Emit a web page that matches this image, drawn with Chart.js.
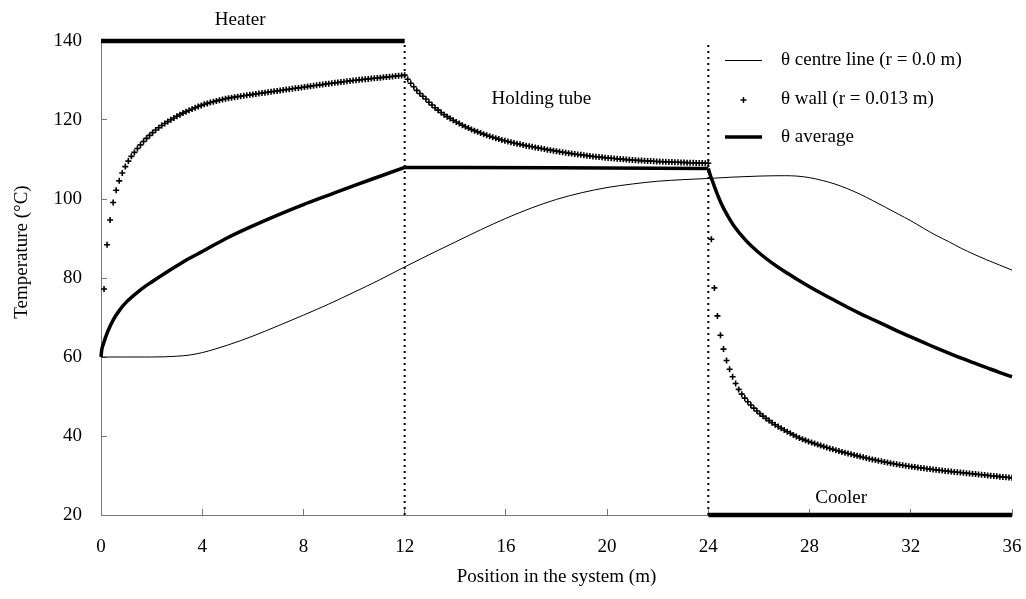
<!DOCTYPE html>
<html><head><meta charset="utf-8">
<script src="https://cdn.jsdelivr.net/npm/chart.js@4.4.0/dist/chart.umd.min.js"></script>
<style>html,body{margin:0;padding:0;background:#fff}#wrap{width:1026px;height:599px;position:relative}</style>
</head><body><div id="wrap"><canvas id="c"></canvas></div>
<script>
// ---- tick values ----
const xTickValues = [0, 4, 8, 12, 16, 20, 24, 28, 32, 36];
const yTickValues = [20, 40, 60, 80, 100, 120, 140];

// ---- section names ----
const sectionNames = ['Heater', 'Holding tube', 'Cooler'];
const sectionStart = [0, 12, 24];
const sectionEnd = [12, 24, 36];
const heaterTemp = 140;
const coolerTemp = 20;

// ---- legend labels ----
const seriesLabels = ['\u03B8 centre line (r = 0.0 m)', '\u03B8 wall (r = 0.013 m)', '\u03B8 average'];

// ---- centre line ----
const centreX = [0,1,2,2.5,3,3.5,4,4.5,5,5.5,6,7,8,9,10,11,12,13,14,15,16,17,18,19,20,21,22,23,24,25,26,27,27.5,28,28.5,29,29.5,30,30.5,31,31.5,32,32.5,33,33.5,34,34.5,35,35.5,36];
const centreY = [60,60,60,60.05,60.2,60.5,61.1,62.0,63.0,64.1,65.3,67.9,70.6,73.4,76.4,79.5,82.8,86.0,89.1,92.2,95.1,97.7,99.9,101.6,102.9,103.8,104.5,104.9,105.2,105.55,105.8,105.9,105.8,105.4,104.7,103.8,102.6,101.2,99.6,97.9,96.2,94.5,92.6,90.8,89.2,87.5,86.0,84.6,83.3,82.0];

// ---- average ----
const avgX = [0,0.03,0.1,0.25,0.5,0.75,1,1.5,2,2.5,3,3.5,4,5,6,7,8,9,10,11,12,18,24,24.05,24.1,24.2,24.35,24.5,24.75,25,25.5,26,26.5,27,27.5,28,28.5,29,29.5,30,30.5,31,31.5,32,32.5,33,33.5,34,34.5,35,35.5,36];
const avgY = [60,61.8,63.4,66.2,69.6,72.0,73.9,76.7,79.0,81.1,83.1,85.0,86.7,90.2,93.2,96.0,98.6,101.0,103.4,105.7,108.0,107.9,107.7,106.6,105.6,103.9,101.3,99.0,95.9,93.3,89.4,86.4,83.9,81.7,79.7,77.8,76.0,74.3,72.6,71.0,69.5,68.0,66.5,65.1,63.7,62.3,61.0,59.7,58.5,57.3,56.1,55.0];

// ---- wall (sampled every 0.12 m in each section) ----
const wallStep = 0.12;
const wallHeater = [
77.2,88.4,94.7,99.1,102.2,104.6,106.6,108.2,109.6,110.8,
111.8,112.8,113.7,114.55,115.35,116.1,116.8,117.45,118.05,118.6,
119.1,119.6,120.07,120.52,120.95,121.36,121.75,122.12,122.47,122.8,
123.12,123.42,123.7,123.96,124.2,124.42,124.63,124.83,125.02,125.2,
125.37,125.53,125.66,125.79,125.91,126.03,126.15,126.26,126.37,126.48,
126.59,126.7,126.81,126.92,127.03,127.14,127.25,127.36,127.47,127.58,
127.69,127.8,127.91,128.02,128.13,128.24,128.35,128.46,128.57,128.68,
128.79,128.9,129.0,129.1,129.2,129.3,129.4,129.5,129.6,129.7,
129.8,129.9,130.0,130.08,130.16,130.24,130.32,130.4,130.48,130.56,
130.64,130.72,130.8,130.88,130.96,131.04,131.12,131.2,131.28,131.36];
const wallHolding = [
130.3,129.3,128.4,127.5,126.7,126.0,125.3,124.5,123.8,123.1,
122.5,121.9,121.35,120.85,120.4,119.95,119.5,119.1,118.7,118.3,
117.95,117.6,117.3,117.0,116.7,116.42,116.15,115.9,115.65,115.4,
115.17,114.95,114.75,114.55,114.36,114.18,114.0,113.83,113.67,113.51,
113.36,113.21,113.06,112.92,112.78,112.64,112.5,112.37,112.24,112.11,
111.98,111.85,111.73,111.61,111.5,111.39,111.28,111.18,111.08,110.98,
110.88,110.79,110.7,110.62,110.54,110.46,110.38,110.31,110.24,110.17,
110.1,110.04,109.98,109.92,109.87,109.82,109.77,109.72,109.67,109.63,
109.59,109.55,109.51,109.47,109.44,109.41,109.38,109.35,109.32,109.29,
109.26,109.23,109.2,109.18,109.16,109.14,109.12,109.1,109.08,109.06];
const wallCooler = [
89.8,77.5,70.4,65.5,62.0,59.1,56.9,55.0,53.3,51.8,
50.6,49.6,48.68,47.83,47.05,46.33,45.66,45.04,44.46,43.9,
43.36,42.86,42.39,41.94,41.51,41.09,40.68,40.28,39.89,39.5,
39.2,38.9,38.62,38.35,38.08,37.82,37.57,37.32,37.08,36.85,
36.62,36.4,36.19,35.98,35.78,35.58,35.38,35.18,34.98,34.79,
34.6,34.42,34.25,34.08,33.91,33.75,33.59,33.43,33.28,33.13,
32.98,32.84,32.7,32.58,32.46,32.35,32.24,32.13,32.02,31.92,
31.82,31.72,31.62,31.52,31.43,31.34,31.25,31.16,31.07,30.99,
30.91,30.83,30.75,30.67,30.59,30.51,30.43,30.35,30.27,30.19,
30.11,30.03,29.95,29.87,29.79,29.71,29.63,29.55,29.48,29.41];

// ---- build datasets ----
const pairs = (xs, ys) => xs.map((x, i) => ({x, y: ys[i]}));
const wallPoints = [];
[wallHeater, wallHolding, wallCooler].forEach((arr, s) => {
  arr.forEach((v, i) => wallPoints.push({x: +(sectionStart[s] + wallStep * (i + 1)).toFixed(3), y: v}));
});
const avgPts = pairs(avgX, avgY);
const avgSection = s => avgPts.filter(p => p.x >= sectionStart[s] && p.x <= sectionEnd[s]);

const FONT = '"Liberation Serif", "Times New Roman", serif';
Chart.defaults.font.family = FONT;
Chart.defaults.font.size = 19;
Chart.defaults.color = '#000';

const avgStyle = {borderColor: '#000', borderWidth: 3.5, pointRadius: 0, cubicInterpolationMode: 'monotone', clip: false};
const datasets = [
  {label: seriesLabels[1], data: wallPoints, showLine: false, pointStyle: 'cross', pointRadius: 3, borderWidth: 1.6, borderColor: '#000', backgroundColor: '#000'},
  Object.assign({label: seriesLabels[2], data: avgSection(0)}, avgStyle),
  Object.assign({label: seriesLabels[2] + ' ', data: avgSection(1)}, avgStyle),
  Object.assign({label: seriesLabels[2] + '  ', data: avgSection(2)}, avgStyle),
  {label: seriesLabels[0], data: pairs(centreX, centreY), borderColor: '#000', borderWidth: 1, pointRadius: 0, cubicInterpolationMode: 'monotone'},
  {label: sectionNames[0], data: [{x: sectionStart[0], y: heaterTemp}, {x: sectionEnd[0], y: heaterTemp}], borderColor: '#000', borderWidth: 4.5, pointRadius: 0, clip: false},
  {label: sectionNames[2], data: [{x: sectionStart[2], y: coolerTemp}, {x: sectionEnd[2], y: coolerTemp}], borderColor: '#000', borderWidth: 4.5, pointRadius: 0, clip: false},
  {label: 'b1', data: [{x: sectionEnd[0], y: coolerTemp}, {x: sectionEnd[0], y: heaterTemp}], borderColor: '#000', borderWidth: 2, borderDash: [2, 4], pointRadius: 0, clip: false},
  {label: 'b2', data: [{x: sectionEnd[1], y: coolerTemp}, {x: sectionEnd[1], y: heaterTemp}], borderColor: '#000', borderWidth: 2, borderDash: [2, 4], pointRadius: 0, clip: false}
];

const overlay = {
  id: 'overlay',
  afterDraw(chart) {
    const {ctx, scales: {x, y}} = chart;
    ctx.save();
    ctx.fillStyle = '#000';
    ctx.strokeStyle = '#000';
    ctx.font = '19px ' + FONT;
    ctx.textBaseline = 'middle';
    // section labels
    ctx.textAlign = 'center';
    ctx.fillText(sectionNames[0], x.getPixelForValue(5.5), y.getPixelForValue(145.3));
    ctx.fillText(sectionNames[1], x.getPixelForValue(17.4), y.getPixelForValue(125.3));
    ctx.fillText(sectionNames[2], x.getPixelForValue(29.25), y.getPixelForValue(24.4));
    // legend
    ctx.textAlign = 'left';
    const rows = [60, 99, 137];
    const lx0 = 725, lx1 = 762, tx = 781;
    ctx.lineWidth = 1;
    ctx.beginPath(); ctx.moveTo(lx0, rows[0] + 0.5); ctx.lineTo(lx1, rows[0] + 0.5); ctx.stroke();
    ctx.lineWidth = 1.4;
    const cx = 743.5, cy = rows[1] + 1, r = 3;
    ctx.beginPath(); ctx.moveTo(cx - r, cy); ctx.lineTo(cx + r, cy); ctx.moveTo(cx, cy - r); ctx.lineTo(cx, cy + r); ctx.stroke();
    ctx.lineWidth = 3.5;
    ctx.beginPath(); ctx.moveTo(lx0, rows[2]); ctx.lineTo(lx1, rows[2]); ctx.stroke();
    ctx.fillText(seriesLabels[0], tx, rows[0]);
    ctx.fillText(seriesLabels[1], tx, rows[1]);
    ctx.fillText(seriesLabels[2], tx, rows[2]);
    // y title
    ctx.translate(22, 252);
    ctx.rotate(-Math.PI / 2);
    ctx.textAlign = 'center';
    ctx.fillText('Temperature (\u00B0C)', 0, 0);
    ctx.restore();
  }
};

new Chart(document.getElementById('c'), {
  type: 'line',
  data: {datasets},
  options: {
    responsive: true,
    maintainAspectRatio: false,
    animation: false,
    layout: {padding: {top: 41, right: 14, left: 0, bottom: 0}},
    plugins: {legend: {display: false}, tooltip: {enabled: false}},
    scales: {
      x: {
        type: 'linear', min: 0, max: 36,
        afterBuildTicks: s => { s.ticks = xTickValues.map(v => ({value: v})); },
        afterFit: s => { s.height = 84; s.paddingLeft = 0; s.paddingRight = 0; },
        grid: {drawOnChartArea: false, drawTicks: true, tickLength: -6, color: '#777', lineWidth: 1},
        border: {display: true, color: '#777', width: 1},
        ticks: {padding: 27, color: '#000', font: {size: 19}, maxRotation: 0, autoSkip: false},
        title: {display: true, text: 'Position in the system (m)', color: '#000', font: {size: 19}, padding: {top: 0, bottom: 11}}
      },
      y: {
        type: 'linear', min: 20, max: 140,
        afterBuildTicks: s => { s.ticks = yTickValues.map(v => ({value: v})); },
        afterFit: s => { s.width = 101; s.paddingTop = 0; s.paddingBottom = 0; },
        grid: {drawOnChartArea: false, drawTicks: true, tickLength: -6, color: '#777', lineWidth: 1},
        border: {display: true, color: '#777', width: 1},
        ticks: {padding: 25, color: '#000', font: {size: 19}, autoSkip: false}
      }
    }
  },
  plugins: [overlay]
});
</script>
</body></html>
